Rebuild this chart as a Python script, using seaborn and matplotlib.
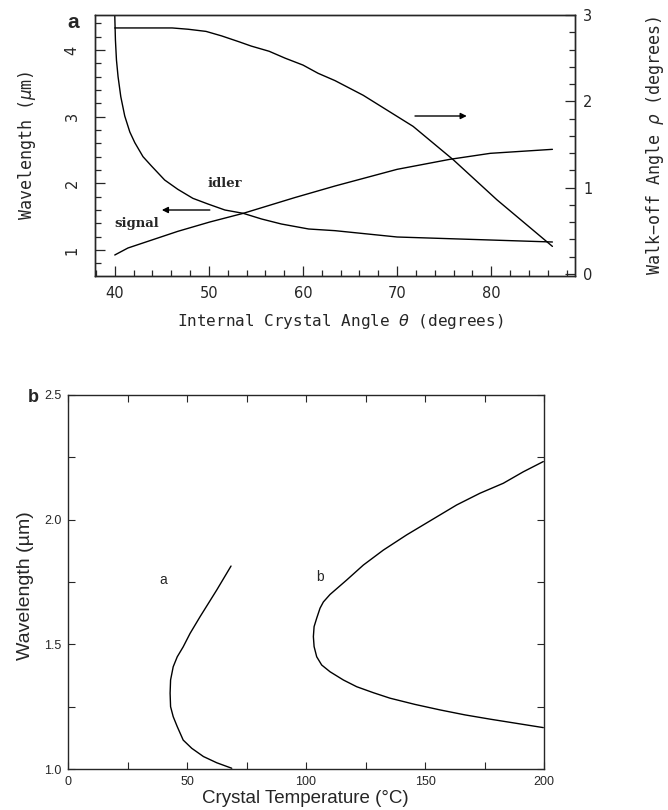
import numpy as np
import pandas as pd
import matplotlib
matplotlib.use("Agg")
import matplotlib.pyplot as plt
import seaborn as sns
from matplotlib.ticker import MultipleLocator

# ---------------- data: panel a ----------------
theta_idler = [40.0, 40.07, 40.18, 40.35, 40.64, 41.06, 41.6, 42.13, 43.0, 43.9, 45.3, 46.7,
               48.3, 49.9, 51.7, 53.65, 55.6, 57.7, 60.6, 63.4, 70.0, 79.9, 86.5]
idler_um = [4.52, 4.15, 3.85, 3.60, 3.30, 3.01, 2.77, 2.61, 2.40, 2.26, 2.05, 1.91,
            1.775, 1.69, 1.60, 1.55, 1.465, 1.39, 1.315, 1.29, 1.195, 1.15, 1.12]

theta_signal = [40.0, 41.4, 46.7, 50.1, 53.65, 59.1, 63.4, 70.0, 75.6, 79.9, 86.5]
signal_um = [0.925, 1.03, 1.28, 1.42, 1.55, 1.785, 1.96, 2.21, 2.36, 2.45, 2.51]

theta_walk = [40.0, 46.1, 47.8, 49.7, 51.35, 53.2, 54.5, 56.4, 58.1, 60.0, 61.6, 63.4, 66.4,
              71.7, 76.0, 80.6, 86.5]
walkoff_deg = [2.85, 2.85, 2.835, 2.81, 2.758, 2.69, 2.64, 2.58, 2.50, 2.42, 2.325, 2.24, 2.07,
               1.71, 1.32, 0.86, 0.32]

# ---------------- data: panel b ----------------
temp_a = [68.5, 62.5, 55.5, 51.3, 48.4, 45.9, 44.2, 43.1, 42.9, 43.1, 44.2, 45.9, 48.4,
          52.0, 56.9, 62.5, 68.8]
wl_a = [1.814, 1.718, 1.611, 1.544, 1.49, 1.45, 1.41, 1.357, 1.304, 1.25, 1.21, 1.17,
        1.116, 1.083, 1.05, 1.025, 1.003]

temp_b = [199.7, 191.3, 182.9, 173.1, 163.3, 156.3, 149.3, 142.3, 132.5, 124.1, 117.1, 110.1,
          107.3, 105.9, 104.5, 103.4, 103.1, 103.4, 104.5, 106.6, 110.1, 115.7, 121.3, 128.3,
          135.3, 145.8, 156.3, 166.8, 177.3, 188.5, 199.7]
wl_b = [2.233, 2.192, 2.146, 2.106, 2.059, 2.019, 1.979, 1.939, 1.878, 1.818, 1.758, 1.70,
        1.67, 1.645, 1.605, 1.571, 1.531, 1.491, 1.45, 1.417, 1.39, 1.357, 1.33, 1.306,
        1.284, 1.259, 1.237, 1.217, 1.2, 1.183, 1.166]

top_xticks = [40, 50, 60, 70, 80]
top_yticks = [1, 2, 3, 4]
right_yticks = [0, 1, 2, 3]
bot_xticks = [0, 50, 100, 150, 200]
bot_yticks = [1.0, 1.5, 2.0, 2.5]

sns.set_style("ticks")
plt.rcParams["axes.linewidth"] = 1.0

W, H = 668, 810
fig = plt.figure(figsize=(W / 100, H / 100), dpi=100)

def rect(l, t, r, b):
    return [l / W, 1 - b / H, (r - l) / W, (b - t) / H]

MONO = "DejaVu Sans Mono"
TICKF = "DejaVu Sans"
SANS = "Liberation Sans"

# ---------------- panel a ----------------
ax = fig.add_axes(rect(95, 15, 575, 276))
ax2 = ax.twinx()
lw = 1.0
sns.lineplot(data=pd.DataFrame({"x": theta_idler, "y": idler_um}), x="x", y="y",
             sort=False, estimator=None, color="k", lw=lw, ax=ax)
sns.lineplot(data=pd.DataFrame({"x": theta_signal, "y": signal_um}), x="x", y="y",
             sort=False, estimator=None, color="k", lw=lw, ax=ax)
sns.lineplot(data=pd.DataFrame({"x": theta_walk, "y": walkoff_deg}), x="x", y="y",
             sort=False, estimator=None, color="k", lw=lw, ax=ax2)

ax.set_xlim(37.9, 88.9)
ax.set_ylim(0.61, 4.525)
ax2.set_ylim(-0.023, 3.0)
ax.set_xticks(top_xticks)
ax.set_yticks(top_yticks)
ax2.set_yticks(right_yticks)
ax.xaxis.set_minor_locator(MultipleLocator(2))
ax.yaxis.set_minor_locator(MultipleLocator(0.2))
ax2.yaxis.set_minor_locator(MultipleLocator(0.2))
ax.tick_params(which="both", direction="in", top=False, right=False, width=0.9)
ax.tick_params(which="major", length=7)
ax.tick_params(which="minor", length=4)
ax.tick_params(axis="x", pad=7, labelsize=10.5)
ax.tick_params(axis="y", pad=11, labelsize=10.5, labelrotation=90)
ax2.tick_params(which="both", direction="in", right=True, width=0.9)
ax2.tick_params(which="major", length=7, pad=6, labelsize=10.5)
ax2.tick_params(which="minor", length=4)
for lab in ax.get_xticklabels() + ax.get_yticklabels() + ax2.get_yticklabels():
    lab.set_fontfamily(TICKF)
for lab in ax.get_yticklabels():
    lab.set_va("center")

ax.set_xlabel("Internal Crystal Angle $\\theta$ (degrees)", fontfamily=MONO, fontsize=11.5, va="center")
ax.xaxis.set_label_coords(0.51, -0.176)
ax.set_ylabel("Wavelength ($\\mu$m)", fontfamily=MONO, fontsize=12, va="center")
ax.yaxis.set_label_coords(-0.142, 0.5)
ax2.set_ylabel("Walk\u2212off Angle $\\rho$ (degrees)", fontfamily=MONO, fontsize=12, rotation=90, va="center")
ax2.yaxis.set_label_coords(1.167, 0.5)

ax.text(51.7, 2.0, "idler", fontfamily="DejaVu Serif", fontweight="bold", fontsize=9.5, ha="center", va="center")
ax.text(42.3, 1.40, "signal", fontfamily="DejaVu Serif", fontweight="bold", fontsize=9.5, ha="center", va="center")
arrow_kw = dict(arrowstyle="-|>", color="k", lw=1.0, mutation_scale=9, shrinkA=0, shrinkB=0)
ax.annotate("", xy=(45.0, 1.60), xytext=(50.1, 1.60), arrowprops=arrow_kw)
ax.annotate("", xy=(77.4, 3.01), xytext=(71.9, 3.01), arrowprops=arrow_kw)

fig.text(73 / W, 1 - 22 / H, "a", fontfamily=SANS, fontweight="bold", fontsize=15, ha="center", va="center")

# ---------------- panel b ----------------
bx = fig.add_axes(rect(68, 395, 544, 769))
sns.lineplot(data=pd.DataFrame({"x": temp_a, "y": wl_a}), x="x", y="y",
             sort=False, estimator=None, color="k", lw=lw, ax=bx)
sns.lineplot(data=pd.DataFrame({"x": temp_b, "y": wl_b}), x="x", y="y",
             sort=False, estimator=None, color="k", lw=lw, ax=bx)
bx.set_xlim(0, 200)
bx.set_ylim(1.0, 2.5)
bx.set_xticks(bot_xticks)
bx.set_yticks(bot_yticks)
bx.set_xticklabels([str(v) for v in bot_xticks])
bx.set_yticklabels([f"{v:.1f}" for v in bot_yticks])
bx.xaxis.set_minor_locator(MultipleLocator(25))
bx.yaxis.set_minor_locator(MultipleLocator(0.25))
bx.tick_params(which="both", direction="in", top=True, right=True, length=5, width=0.8)
bx.tick_params(axis="x", pad=5, labelsize=9)
bx.tick_params(axis="y", pad=4.5, labelsize=9)
for lab in bx.get_xticklabels() + bx.get_yticklabels():
    lab.set_fontfamily(SANS)
bx.set_xlabel("Crystal Temperature (\u00b0C)", fontfamily=SANS, fontsize=13.5, va="center")
bx.xaxis.set_label_coords(0.498, -0.08)
bx.set_ylabel("Wavelength (\u00b5m)", fontfamily=SANS, fontsize=14, va="center")
bx.yaxis.set_label_coords(-0.09, 0.49)
bx.text(40.0, 1.758, "a", fontfamily=SANS, fontsize=10, ha="center", va="center")
bx.text(105.9, 1.771, "b", fontfamily=SANS, fontsize=10, ha="center", va="center")

fig.text(33 / W, 1 - 398 / H, "b", fontfamily=SANS, fontweight="bold", fontsize=13, ha="center", va="center")

fig.savefig("out.png", dpi=100, facecolor="white")
